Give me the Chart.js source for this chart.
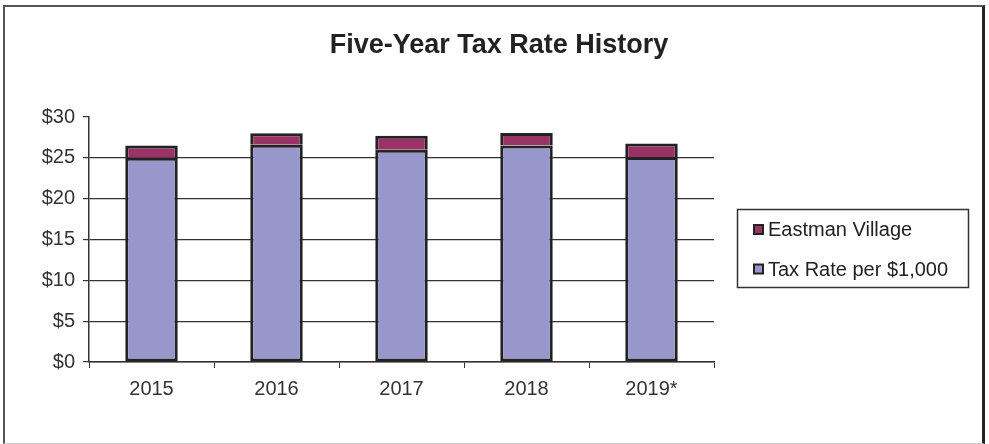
<!DOCTYPE html>
<html>
<head>
  <title>Five-Year Tax Rate History</title>
  <script src="https://cdn.jsdelivr.net/npm/chart.js"></script>
  <style>
    body {
      margin: 0;
      background: #fff;
    }

    #wrap {
      position: relative;
      width: 989px;
      height: 444px;
    }

    #frame {
      position: absolute;
      left: 3px;
      top: 5px;
      width: 982px;
      height: 439px;
      box-sizing: border-box;
      border-top: 2px solid #555;
      border-left: 2px solid #555;
      border-right: 3px solid #222;
      border-bottom: 1px solid #ccc;
      pointer-events: none;
    }
  </style>
</head>
<body>
  <div id="wrap">
    <canvas id="taxChart" width="989" height="444"></canvas>
    <div id="frame"></div>
  </div>

  <script>
    const years = ["2015", "2016", "2017", "2018", "2019*"];
    const taxRate = [25.0, 26.6, 26.0, 26.5, 25.1];
    const eastmanVillage = [1.5, 1.4, 1.7, 1.55, 1.65];
    const yTicks = [0, 5, 10, 15, 20, 25, 30];

    const FONT = '"Liberation Sans", Arial, sans-serif';

    // Title and boxed legend are painted after the chart itself
    const titleAndLegend = {
      id: "titleAndLegend",
      afterDraw(chart) {
        const ctx = chart.ctx;
        ctx.save();

        ctx.fillStyle = "#222";
        ctx.font = "bold 27px " + FONT;
        ctx.textAlign = "center";
        ctx.textBaseline = "alphabetic";
        ctx.fillText("Five-Year Tax Rate History", 499, 53);

        // legend box
        ctx.strokeStyle = "#333";
        ctx.lineWidth = 1.5;
        ctx.strokeRect(737.5, 209.5, 231, 78);

        const items = chart.data.datasets.slice().reverse();
        const baselines = [236, 275.5];
        ctx.font = "20px " + FONT;
        ctx.textAlign = "left";
        items.forEach((ds, i) => {
          const y = baselines[i];
          ctx.fillStyle = ds.backgroundColor;
          ctx.fillRect(754, y - 11, 9, 9);
          ctx.strokeStyle = "#222";
          ctx.lineWidth = 2;
          ctx.strokeRect(754, y - 11, 9, 9);
          ctx.fillStyle = "#222";
          ctx.fillText(ds.label, 768, y);
        });

        ctx.restore();
      }
    };

    new Chart(document.getElementById("taxChart"), {
      type: "bar",
      data: {
        labels: years,
        datasets: [
          {
            label: "Tax Rate per $1,000",
            data: taxRate,
            backgroundColor: "#9797cb",
            borderColor: "#222",
            borderWidth: 3,
            borderSkipped: false,
            barPercentage: 0.42,
            categoryPercentage: 1.0
          },
          {
            label: "Eastman Village",
            data: eastmanVillage,
            backgroundColor: "#993366",
            borderColor: "#222",
            borderWidth: 3,
            // the segment below already draws the dividing line
            borderSkipped: "bottom",
            barPercentage: 0.42,
            categoryPercentage: 1.0
          }
        ]
      },
      options: {
        responsive: false,
        animation: false,
        devicePixelRatio: 1,
        layout: {
          padding: { left: 0, right: 275, top: 117, bottom: 0 }
        },
        plugins: {
          legend: { display: false },
          title: { display: false },
          tooltip: { enabled: false }
        },
        scales: {
          x: {
            stacked: true,
            afterFit(scale) { scale.height = 82; },
            grid: {
              offset: true,
              drawOnChartArea: false,
              drawTicks: true,
              tickLength: 6,
              color: "#333"
            },
            border: { color: "#333", width: 1.5 },
            ticks: {
              color: "#333",
              padding: 9,
              font: { family: FONT, size: 20 }
            }
          },
          y: {
            stacked: true,
            min: 0,
            max: 30,
            afterFit(scale) { scale.width = 89; },
            afterBuildTicks(scale) {
              scale.ticks = yTicks.map(v => ({ value: v }));
            },
            grid: {
              color: c => (c.tick && c.tick.value === 30 ? "rgba(0,0,0,0)" : "#333"),
              tickColor: "#333",
              tickLength: 6,
              lineWidth: 1.2
            },
            border: { color: "#333", width: 1.5 },
            ticks: {
              color: "#333",
              padding: 8,
              font: { family: FONT, size: 20 },
              callback: v => "$" + v
            }
          }
        }
      },
      plugins: [titleAndLegend]
    });
  </script>
</body>
</html>
